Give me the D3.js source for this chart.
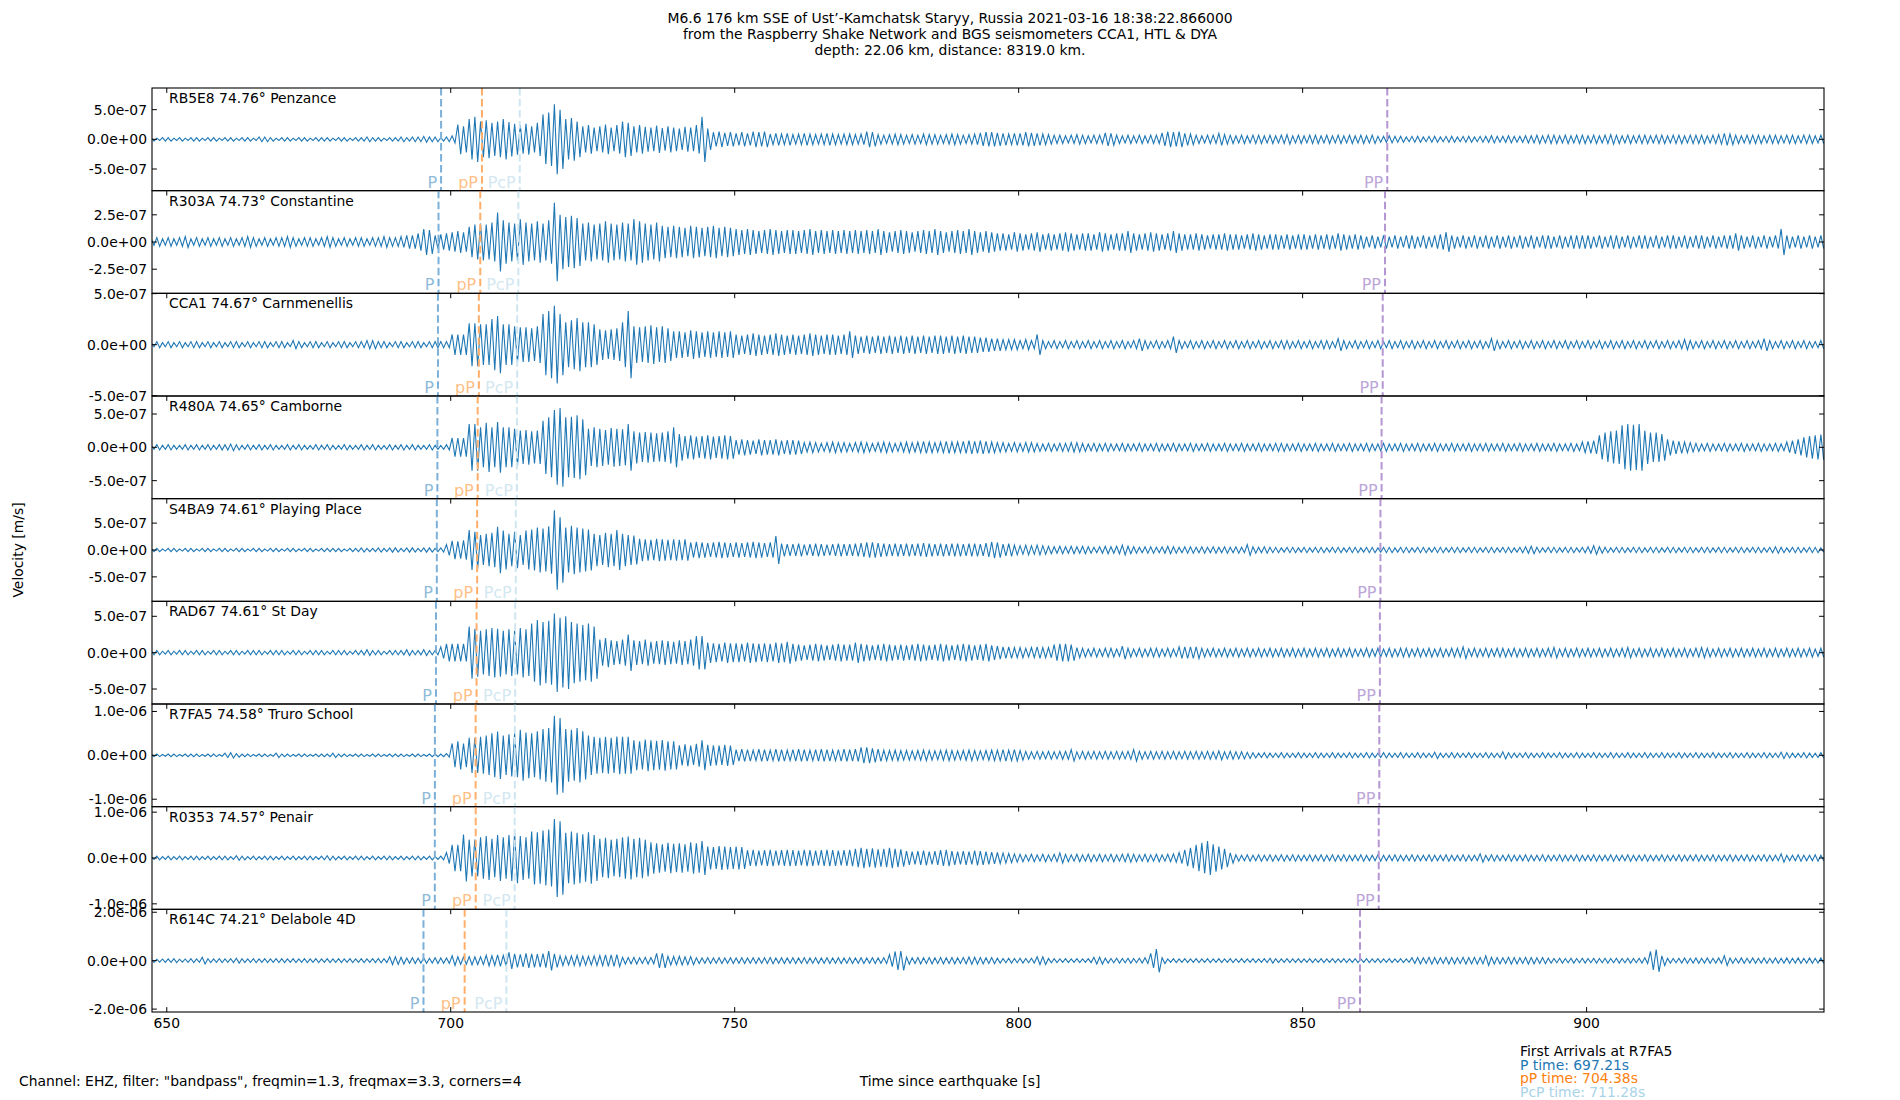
<!DOCTYPE html>
<html>
<head>
<meta charset="utf-8">
<script src="https://cdn.jsdelivr.net/npm/d3@7"></script>
<style>
body { margin: 0; background: #fff; }
text { font-family: "DejaVu Sans", sans-serif; font-size: 13.9px; fill: #000; }
</style>
</head>
<body>
<svg id="chart" width="1900" height="1100"></svg>
<script>
// station labels, top to bottom
const stations = [
  "RB5E8 74.76° Penzance", "R303A 74.73° Constantine", "CCA1 74.67° Carnmenellis",
  "R480A 74.65° Camborne", "S4BA9 74.61° Playing Place", "RAD67 74.61° St Day",
  "R7FA5 74.58° Truro School", "R0353 74.57° Penair", "R614C 74.21° Delabole 4D"
];

// y half-range of each panel and its ticks, in 1e-8 m/s
const yLimits = [86.5, 47.2, 50.3, 77, 95.5, 70.6, 117, 112, 212];
const yTickVals = [
  [-50, 0, 50], [-25, 0, 25], [-50, 0, 50], [-50, 0, 50], [-50, 0, 50],
  [-50, 0, 50], [-100, 0, 100], [-100, 0, 100], [-200, 0, 200]
];
const xTickVals = [650, 700, 750, 800, 850, 900];

// arrival times [s] per station
const pTimes   = [698.3, 697.85, 697.75, 697.65, 697.55, 697.4, 697.21, 697.2, 695.2];
const pPTimes  = [705.5, 705.2, 704.95, 704.75, 704.65, 704.55, 704.38, 704.4, 702.45];
const pcpTimes = [712.15, 711.9, 711.7, 711.65, 711.45, 711.35, 711.28, 711.25, 709.8];
const ppTimes  = [864.9, 864.5, 864.1, 863.9, 863.7, 863.6, 863.5, 863.4, 860.1];

// peak amplitude per 1 s bin, 1e-8 m/s, bins start at t0 = 647 s
const t0 = 647;
const ampRB5E8 = [3,2,3,
  3,2,3,2,3,3,2,3,3,2, 3,3,2,3,3,2,4,4,3,2, 3,3,2,3,3,2,3,3,3,2, 3,3,2,3,3,4,3,3,2,3,
  3,4,3,4,4,5,4,4,3,4, 6,25,22,34,38,30,32,28,30,34, 29,26,24,26,22,28,42,45,59,50,
  34,36,30,22,24,20,22,25,20,24, 30,28,22,24,21,20,23,19,22,20, 18,21,20,24,38,18,12,13,11,12,
  10,12,10,13,12,13,9,10,9,10, 8,9,10,9,8,9,10,9,8,9, 9,8,9,13,12,8,7,8,9,8,
  7,8,7,9,8,8,7,8,9,8, 7,8,9,11,12,12,11,10,9,10, 10,12,11,10,9,8,7,7,6,7,
  8,7,6,7,7,11,10,7,6,7, 6,7,6,7,7,11,13,12,13,10, 9,7,6,7,7,10,8,7,6,7,
  6,7,7,6,7,6,7,8,6,7, 6,7,7,6,7,6,7,6,7,6, 7,6,7,5,5,6,5,5,4,5,
  5,4,5,5,4,5,5,4,5,5, 4,5,5,6,5,5,6,5,5,6, 6,7,6,7,7,6,7,6,7,7,
  6,7,6,7,8,7,6,7,6,7, 7,6,7,7,6,7,7,6,7,7, 7,6,7,8,10,9,7,6,7,7,
  7,6,7,7,6,7,7,6,7,7, 6,7];
const ampR303A = [3,4,3,
  4,3,4,5,3,4,3,4,3,4, 3,4,3,4,5,4,3,4,3,4, 4,5,4,3,4,4,3,4,5,4, 3,4,3,4,4,3,4,4,5,4,
  4,5,6,6,8,12,11,6,7,8, 9,10,9,14,16,17,16,18,27,20, 18,17,21,18,17,19,17,20,36,25,
  23,24,22,17,18,16,17,19,17,16, 18,17,21,19,17,16,18,15,14,15, 14,13,15,14,13,14,15,13,14,13,
  12,11,12,11,10,11,12,11,10,11, 11,10,11,12,10,11,10,11,10,11, 10,11,10,11,10,12,10,9,10,11,
  10,9,10,11,10,12,10,9,10,11, 10,12,10,9,10,9,8,8,7,9, 8,7,8,9,7,8,7,8,9,8,
  7,8,8,7,9,8,7,8,8,10, 8,7,8,9,8,7,8,10,8,7, 7,8,7,6,7,7,8,7,7,6,
  7,8,7,6,7,7,6,7,6,7, 7,6,7,6,7,6,8,7,6,7, 6,5,6,5,6,5,6,5,6,6,
  5,6,5,6,7,9,6,5,6,5, 6,5,6,5,6,5,6,5,6,5, 6,5,6,6,5,6,5,6,6,6,
  6,5,6,5,6,6,5,6,5,6, 6,5,6,5,6,6,5,6,5,6, 6,5,6,5,6,6,8,6,5,6,
  5,6,5,6,12,6,5,6,5,6, 5,6];
const ampCCA1 = [2,3,2,
  3,2,3,2,3,3,2,3,2,3, 2,3,3,2,3,2,3,3,2,3, 3,2,4,3,2,3,3,2,3,2, 3,3,2,3,3,4,4,3,3,2,
  3,3,2,3,3,2,3,3,3,3, 10,10,10,21,21,20,20,25,28,20, 20,18,17,17,16,18,30,33,38,30,
  22,24,26,22,22,20,15,14,15,16, 22,33,18,17,18,19,17,18,16,13, 13,12,14,13,12,13,12,13,12,13,
  10,9,10,11,10,9,10,11,10,9, 10,9,10,11,10,9,10,10,9,10, 13,9,8,9,8,9,8,9,8,9,
  8,9,8,9,8,9,9,8,9,8, 9,8,8,7,7,6,6,5,5,5, 4,5,4,10,4,3,4,3,4,3,
  4,3,4,3,4,3,4,3,4,3, 4,6,4,3,4,3,4,8,4,3, 4,3,4,3,4,3,4,3,4,3,
  4,3,4,3,4,3,4,4,3,4, 3,4,3,4,4,3,6,4,3,4, 3,4,3,4,3,4,3,4,3,4,
  3,4,3,4,3,4,3,4,3,4, 3,4,3,6,4,3,4,3,4,3, 4,3,4,3,4,3,4,3,4,3,
  4,3,4,3,4,3,4,3,4,3, 4,3,4,3,4,3,4,5,4,3, 4,3,4,3,4,3,4,3,4,3,
  4,6,4,3,4,3,4,3,4,3, 3,4];
const ampR480A = [3,4,3,
  4,3,3,4,3,4,3,4,3,4, 4,5,4,3,4,3,4,3,4,3, 3,4,3,4,3,3,4,3,4,3, 3,4,3,3,4,3,4,3,3,4,
  3,4,3,4,3,3,4,3,3,4, 14,14,14,35,35,30,37,30,38,30, 30,28,25,26,24,25,40,45,56,59,
  45,46,48,42,28,30,28,26,29,28, 27,35,24,22,23,22,21,22,24,30, 20,17,18,16,17,18,16,17,18,17,
  11,12,11,10,12,11,11,12,10,11, 11,10,7,8,7,6,7,8,7,7, 6,7,8,7,6,7,8,7,6,7,
  8,7,8,9,8,7,8,9,8,8, 9,10,9,10,9,8,7,7,6,7, 6,7,7,6,5,6,5,6,6,7,
  7,6,5,6,5,6,5,5,6,5, 5,6,5,5,6,5,5,6,5,5, 6,5,5,6,5,5,6,5,5,6,
  5,5,6,5,5,6,6,5,5,6, 5,5,6,5,5,6,5,5,6,5, 5,6,5,5,6,5,5,6,5,5,
  6,5,5,6,5,5,6,5,5,6, 5,5,6,5,5,6,5,5,6,5, 5,6,5,5,6,5,5,6,5,8,
  9,10,18,22,24,25,33,35,34,35, 25,22,22,20,12,10,9,8,7,6, 5,6,5,5,6,5,5,6,5,5,
  6,5,5,6,5,8,10,12,15,17, 18,19];
const ampS4BA9 = [3,3,2,
  3,3,2,3,3,2,3,3,2,3, 3,2,3,3,2,3,3,2,3,3, 2,3,3,2,3,3,2,3,3,3, 3,2,3,3,4,3,3,4,3,4,
  4,3,4,4,3,4,4,3,4,10, 17,16,18,37,34,28,30,32,43,36, 30,34,28,36,38,42,40,44,74,61,
  42,45,42,40,38,30,28,32,30,37, 30,28,27,21,20,19,21,20,19,20, 19,20,14,15,14,13,14,15,14,13,
  14,13,14,15,14,13,14,26,12,11, 11,12,10,11,12,11,10,11,12,11, 11,12,13,14,14,13,12,11,12,11,
  12,11,12,13,12,11,12,11,12,12, 11,12,12,11,13,15,14,11,12,9, 8,9,8,9,8,7,6,7,6,7,
  6,7,6,5,6,7,6,7,9,7, 6,5,6,6,5,6,7,6,5,6, 6,5,6,5,6,5,6,5,6,5,
  10,6,5,6,5,5,4,5,5,4, 5,4,5,5,4,5,5,4,5,5, 4,5,5,4,5,5,4,5,5,4,
  5,5,4,5,5,4,5,5,4,5, 5,4,5,5,4,5,5,4,5,6, 7,5,4,5,5,4,5,5,4,5,
  6,8,6,5,4,5,5,4,5,5, 4,5,5,4,5,5,4,5,5,4, 5,5,4,5,5,4,5,5,4,5,
  5,4,5,6,5,4,5,5,4,5, 5,4];
const ampRAD67 = [3,3,2,
  3,2,3,3,2,3,3,2,3,3, 2,3,3,2,3,3,3,2,3,3, 3,2,3,3,2,3,3,3,2,3, 3,3,2,3,3,4,3,3,2,3,
  3,3,4,3,3,4,3,3,8,12, 12,12,12,36,33,30,32,34,33,30, 32,30,34,32,40,45,42,44,54,48,
  50,42,40,38,40,36,18,20,17,16, 18,25,17,16,18,15,16,17,16,15, 17,16,18,23,23,14,13,12,14,13,
  13,12,14,13,12,13,12,14,13,15, 12,11,10,11,12,11,10,11,12,11, 11,14,12,11,10,11,12,11,10,11,
  10,11,12,11,10,11,12,11,10,11, 12,11,10,11,12,10,9,8,8,7, 7,6,7,8,7,7,11,12,12,11,
  7,6,5,6,5,6,6,5,9,6, 5,6,5,6,6,5,6,5,8,8, 8,8,6,5,6,5,6,5,6,5,
  6,5,6,5,6,5,6,5,6,5, 6,5,6,5,6,5,6,5,6,5, 5,6,5,6,5,6,5,6,6,5,
  6,5,6,5,6,5,6,6,8,5, 6,5,6,5,6,6,5,6,5,6, 5,6,5,6,7,5,6,5,6,5,
  6,5,6,5,6,5,6,7,5,6, 5,6,5,6,5,6,5,6,5,6, 7,6,5,6,5,6,5,6,5,6,
  5,6,5,6,5,6,5,6,5,6, 5,6];
const ampR7FA5 = [3,3,2,
  3,3,2,3,3,3,2,3,3,2, 5,6,4,3,3,2,3,3,2,5, 3,3,2,3,3,2,3,3,3,5, 3,3,2,3,3,2,3,3,2,3,
  3,3,2,3,3,2,3,3,3,4, 27,32,27,40,40,42,45,50,54,45, 48,50,58,52,50,55,60,62,90,85,
  60,58,62,55,45,42,40,42,40,43, 42,42,34,32,36,34,33,35,32,32, 23,25,22,26,34,24,23,22,24,22,
  13,14,13,12,14,13,12,14,13,12, 13,14,13,12,13,14,13,12,13,14, 13,14,18,18,16,14,12,11,12,11,
  11,10,11,12,11,10,11,12,11,10, 11,12,11,10,11,12,12,13,12,13, 11,9,8,9,8,9,8,9,9,13,
  8,9,8,9,8,9,8,9,8,9, 13,9,8,9,8,9,8,9,8,9, 8,9,8,9,8,10,8,9,8,8,
  7,6,5,6,5,5,6,5,5,6, 5,5,6,5,5,6,5,5,6,5, 5,6,5,5,6,5,5,6,5,5,
  6,5,5,7,5,5,6,5,5,6, 5,5,6,5,5,8,6,5,5,6, 5,5,6,5,5,6,5,5,6,5,
  5,6,5,5,6,5,5,6,5,5, 6,5,5,6,5,5,6,5,5,6, 5,5,6,5,5,6,5,5,6,5,
  5,6,5,5,7,6,5,5,6,5, 5,6];
const ampR0353 = [3,4,3,
  4,3,4,3,4,4,3,4,3,4, 4,3,5,4,3,4,3,4,4,3, 4,3,4,3,4,4,3,4,5,4, 3,4,3,4,4,3,4,3,4,4,
  3,4,3,4,4,3,4,3,4,12, 29,29,51,40,40,45,48,42,50,45, 50,55,48,45,58,56,60,62,85,80,
  55,58,55,52,56,50,42,44,40,42, 45,47,42,44,40,34,32,30,33,31, 32,30,34,32,37,25,24,26,25,24,
  25,24,17,18,16,17,18,16,17,18, 17,16,18,17,16,17,18,17,16,17, 18,20,22,20,21,19,20,22,20,19,
  15,14,15,16,14,15,17,18,15,14, 15,14,16,15,14,13,12,11,10,9, 8,7,8,7,8,7,8,11,8,7,
  8,7,8,7,8,7,8,7,8,9, 8,7,8,7,8,7,8,9,12,18, 22,29,33,37,30,25,20,11,7,6,
  7,6,7,6,7,6,7,6,7,6, 6,7,6,7,6,7,6,7,6,6, 7,6,6,7,6,6,7,6,6,7,
  6,6,7,6,6,7,6,6,7,6, 6,9,6,7,6,6,7,6,6,7, 6,6,7,6,6,7,6,6,7,6,
  6,7,6,6,7,6,6,7,6,6, 7,6,6,7,6,6,7,6,6,7, 6,6,7,6,6,7,6,6,7,6,
  6,7,6,6,9,6,6,7,6,6, 7,6];
const ampR614C = [7,6,7,
  7,8,6,7,8,7,14,8,7,8, 7,8,10,8,7,8,7,8,7,8, 8,7,8,7,8,7,8,7,8,7, 8,7,8,7,8,7,8,9,8,16,
  16,14,11,12,10,11,10,12,11,11, 20,16,15,17,16,16,22,20,24,22, 34,28,26,30,28,27,29,40,28,20,
  18,20,22,19,18,20,21,24,24,25, 14,13,14,12,14,13,30,30,18,17, 18,16,17,12,11,12,11,12,11,12,
  11,12,11,12,11,12,13,11,12,11, 12,11,12,11,12,11,12,11,12,11, 12,11,12,11,12,11,12,25,38,40,
  15,12,13,12,13,12,13,12,13,12, 13,15,14,13,12,13,10,9,10,9, 10,9,10,16,16,9,8,7,8,7,
  8,7,8,14,14,10,9,10,9,10, 9,10,12,30,48,12,7,8,7,8, 7,8,7,8,7,8,7,8,7,8,
  7,8,7,8,10,8,7,8,7,8, 7,8,7,8,7,8,7,8,7,8, 7,8,7,8,7,8,7,8,7,12,
  13,12,14,13,12,14,13,12,14,13, 14,13,20,14,13,12,14,13,12,14, 13,12,13,10,9,10,9,10,9,10,
  9,10,9,10,9,10,9,10,9,10, 12,38,46,20,10,9,10,11,10,11, 10,11,10,11,20,11,10,11,10,11,
  10,11,10,11,10,11,10,11,10,11, 10,11];
const traces = [ampRB5E8, ampR303A, ampCCA1, ampR480A, ampS4BA9, ampRAD67, ampR7FA5, ampR0353, ampR614C];

const titleLines = [
  "M6.6 176 km SSE of Ust’-Kamchatsk Staryy, Russia 2021-03-16 18:38:22.866000",
  "from the Raspberry Shake Network and BGS seismometers CCA1, HTL & DYA",
  "depth: 22.06 km, distance: 8319.0 km."
];
const arrivalNotes = ["First Arrivals at R7FA5", "P time: 697.21s", "pP time: 704.38s", "PcP time: 711.28s"];
const noteColors = ["#000", "#1f77b4", "#ff7f0e", "#a8d3e8"];

const phases = [
  {name: "P",   times: pTimes,   line: "#7cb0d8", label: "#8fbbd9"},
  {name: "pP",  times: pPTimes,  line: "#ffae6a", label: "#ffbf86"},
  {name: "PcP", times: pcpTimes, line: "#cfe6f0", label: "#d3e8f1"},
  {name: "PP",  times: ppTimes,  line: "#b496d3", label: "#bca6d8"}
];

const svg = d3.select("#chart");
const axLeft = 152, axRight = 1824, axTop = 88, axBottom = 1012;
const panelH = (axBottom - axTop) / traces.length;
const tickLen = 4.9;

const x = d3.scaleLinear().domain([647.4, 941.8]).range([axLeft, axRight]);

function sci(v) {
  if (v === 0) return "0.0e+00";
  return (v * 1e-8).toExponential(1).replace(/e([+-])(\d)$/, (m, s, d) => "e" + s + "0" + d);
}

traces.forEach((amps, k) => {
  const py = axTop + k * panelH;
  const y = d3.scaleLinear().domain([-yLimits[k], yLimits[k]]).range([py + panelH, py]);
  const g = svg.append("g");

  g.append("clipPath").attr("id", "clip" + k)
    .append("rect").attr("x", axLeft).attr("y", py).attr("width", axRight - axLeft).attr("height", panelH);

  // waveform drawn as max/min strokes of each 1 s bin
  const pts = [];
  amps.forEach((a, i) => {
    pts.push([t0 + i + 0.25, a]);
    pts.push([t0 + i + 0.75, -a]);
  });
  g.append("path")
    .attr("clip-path", `url(#clip${k})`)
    .attr("d", d3.line().x(d => x(d[0])).y(d => y(d[1]))(pts))
    .attr("fill", "none").attr("stroke", "#1f77b4").attr("stroke-width", 1.1);

  // arrival markers
  phases.forEach(ph => {
    const xp = x(ph.times[k]);
    g.append("line")
      .attr("x1", xp).attr("x2", xp).attr("y1", py).attr("y2", py + panelH)
      .attr("stroke", ph.line).attr("stroke-width", 2).attr("stroke-dasharray", "7.5,3.5");
    g.append("text")
      .attr("x", xp - 4).attr("y", py + panelH - 3)
      .attr("text-anchor", "end").style("font-size", "16px").style("fill", ph.label)
      .text(ph.name);
  });

  // frame
  g.append("rect").attr("x", axLeft).attr("y", py).attr("width", axRight - axLeft).attr("height", panelH)
    .attr("fill", "none").attr("stroke", "#000").attr("stroke-width", 1.1);

  // y ticks, pointing in on both sides
  yTickVals[k].forEach(v => {
    const yy = y(v);
    g.append("line").attr("x1", axLeft).attr("x2", axLeft + tickLen).attr("y1", yy).attr("y2", yy).attr("stroke", "#000");
    g.append("line").attr("x1", axRight - tickLen).attr("x2", axRight).attr("y1", yy).attr("y2", yy).attr("stroke", "#000");
    g.append("text").attr("x", axLeft - 5).attr("y", yy).attr("dy", "0.35em")
      .attr("text-anchor", "end").text(sci(v));
  });

  // x ticks at the top of every panel
  xTickVals.forEach(v => {
    g.append("line").attr("x1", x(v)).attr("x2", x(v)).attr("y1", py).attr("y2", py + tickLen).attr("stroke", "#000");
  });

  g.append("text").attr("x", axLeft + 17).attr("y", py + 15).text(stations[k]);
});

// bottom x axis
xTickVals.forEach(v => {
  svg.append("line").attr("x1", x(v)).attr("x2", x(v)).attr("y1", axBottom - tickLen).attr("y2", axBottom).attr("stroke", "#000");
  svg.append("text").attr("x", x(v)).attr("y", axBottom + 16).attr("text-anchor", "middle").text(v);
});

// titles and notes
titleLines.forEach((t, i) => {
  svg.append("text").attr("x", 950).attr("y", 22.5 + i * 16).attr("text-anchor", "middle").text(t);
});
svg.append("text").attr("transform", "translate(18,550) rotate(-90)")
  .attr("text-anchor", "middle").attr("dy", "0.35em").text("Velocity [m/s]");
svg.append("text").attr("x", 950).attr("y", 1086).attr("text-anchor", "middle").text("Time since earthquake [s]");
svg.append("text").attr("x", 19).attr("y", 1086)
  .text('Channel: EHZ, filter: "bandpass", freqmin=1.3, freqmax=3.3, corners=4');
arrivalNotes.forEach((t, i) => {
  svg.append("text").attr("x", 1520).attr("y", 1056 + i * 13.7).style("fill", noteColors[i]).text(t);
});
</script>
</body>
</html>
